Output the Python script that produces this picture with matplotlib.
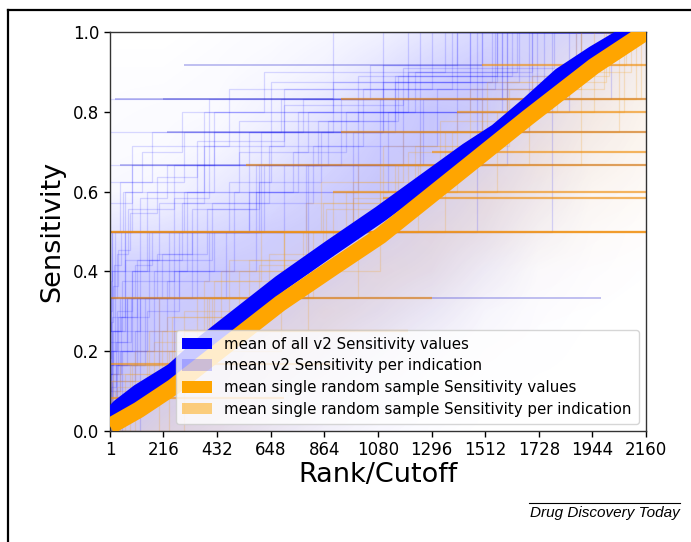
import numpy as np
import matplotlib
matplotlib.use("Agg")
import matplotlib.pyplot as plt
from matplotlib.patches import Patch
from matplotlib.lines import Line2D

# ---------------- data ----------------
x_ticks = [1, 216, 432, 648, 864, 1080, 1296, 1512, 1728, 1944, 2160]
y_ticks = [0.0, 0.2, 0.4, 0.6, 0.8, 1.0]

# mean of all v2 Sensitivity values
blue_rank = [1, 40, 117, 255, 384, 687, 888, 1090, 1441, 1560, 1683, 1816, 1950, 2045, 2160]
blue_sens = [0.035, 0.06, 0.097, 0.15, 0.222, 0.37, 0.458, 0.544, 0.702, 0.75, 0.815, 0.89, 0.945, 0.98, 1.03]

# mean single random sample Sensitivity values
orange_rank = [1, 117, 255, 450, 687, 900, 1090, 1441, 1683, 1950, 2160]
orange_sens = [0.012, 0.053, 0.11, 0.205, 0.32, 0.41, 0.489, 0.664, 0.785, 0.914, 1.0]

# per-indication curves: (number of drugs, ranks at which drugs were recovered)
blue_indications = [
    (5, [1, 20, 150, 420, 900]), (7, [2, 10, 60, 200, 380, 700, 1300]),
    (10, [1, 5, 30, 90, 160, 300, 520, 800, 1200, 1700]), (4, [8, 120, 610, 1400]),
    (8, [1, 1, 50, 260, 480, 650, 1100, 1650]), (3, [1, 350, 1500]),
    (5, [15, 180, 500, 1000, 1580]), (6, [1, 70, 240, 560, 930, 1750]),
    (12, [1, 3, 12, 40, 100, 170, 260, 400, 560, 780, 1050, 1400]), (2, [1, 1480]),
    (9, [4, 25, 85, 190, 330, 600, 880, 1150, 1900]), (4, [1, 1, 1, 1100]),
    (6, [30, 140, 330, 700, 1260, 2020]), (5, [1, 1, 60, 380, 1850]), (3, [120, 800, 1600]),
    (7, [1, 35, 110, 290, 640, 1020, 1550]), (2, [1, 1780]), (6, [1, 1, 1, 1, 1, 1700]),
    (10, [1, 1, 2, 8, 20, 55, 130, 290, 620, 1350]), (5, [50, 260, 590, 1120, 1720]),
    (8, [1, 2, 4, 9, 40, 300, 900, 1450]), (6, [1, 1, 10, 90, 400, 1200]),
    (9, [1, 1, 1, 30, 75, 260, 520, 1000, 1620]), (7, [3, 45, 160, 410, 820, 1320, 1880]),
    (11, [1, 2, 6, 15, 35, 80, 190, 350, 700, 1180, 1790]), (5, [1, 90, 310, 760, 1450]),
    (4, [1, 60, 980, 1690]), (8, [1, 1, 1, 1, 1, 170, 650, 1560]),
    (6, [25, 110, 280, 620, 1090, 1600]), (12, [1, 1, 1, 5, 18, 45, 120, 230, 420, 690, 1100, 1500]),
    (3, [1, 1, 1250]), (7, [1, 1, 1, 1, 90, 480, 1380]),
    (10, [1, 40, 150, 280, 420, 560, 740, 950, 1230, 1640]), (8, [10, 100, 230, 400, 600, 850, 1150, 1540]),
    (9, [1, 1, 70, 210, 390, 590, 840, 1160, 1560]), (6, [5, 200, 470, 790, 1180, 1580]),
]
orange_indications = [
    (10, [20, 150, 300, 520, 700, 950, 1200, 1500, 1800, 2100]),
    (7, [60, 250, 480, 790, 1100, 1450, 1900]), (8, [5, 210, 420, 700, 980, 1250, 1600, 2000]),
    (5, [100, 450, 900, 1400, 1950]),
    (12, [10, 90, 260, 400, 600, 780, 980, 1160, 1380, 1600, 1850, 2080]),
    (4, [300, 800, 1350, 2050]), (6, [40, 350, 700, 1150, 1500, 2140]), (3, [200, 1000, 1900]),
    (9, [30, 180, 410, 640, 870, 1090, 1330, 1700, 2010]),
    (6, [80, 390, 820, 1240, 1690, 2120]), (8, [1, 160, 380, 610, 850, 1180, 1520, 1880]),
    (5, [240, 690, 1090, 1560, 2070]), (7, [15, 230, 560, 860, 1230, 1610, 1990]),
]
# long flat stretches of single indications: (sensitivity, from rank, to rank)
blue_flats = [
    (0.5, 1, 700), (0.333, 1, 1980), (0.667, 40, 2160), (0.833, 215, 2160), (0.75, 230, 2160),
    (0.833, 20, 900), (0.917, 300, 1500),
]
orange_flats = [
    (0.5, 1, 2160), (0.5, 1, 2160), (0.333, 1, 1300), (0.667, 550, 2160), (0.833, 930, 2160),
    (0.75, 930, 2160), (0.6, 900, 2160), (0.583, 1100, 2160), (0.7, 1300, 2160),
    (0.8, 1400, 2160), (0.917, 1500, 2160), (0.167, 1, 900), (0.083, 1, 700), (0.25, 300, 1200),
]

# density of the faint per-indication lines (rows: sensitivity 1.0 -> 0.0, cols: x_ticks)
blue_density = [
    [0.00, 0.00, 0.02, 0.04, 0.08, 0.15, 0.30, 0.45, 0.50, 0.45, 0.25],
    [0.02, 0.02, 0.04, 0.08, 0.15, 0.30, 0.50, 0.60, 0.50, 0.25, 0.10],
    [0.03, 0.04, 0.06, 0.15, 0.30, 0.50, 0.65, 0.60, 0.35, 0.15, 0.05],
    [0.04, 0.06, 0.12, 0.25, 0.45, 0.60, 0.65, 0.45, 0.25, 0.10, 0.03],
    [0.08, 0.12, 0.25, 0.40, 0.55, 0.65, 0.50, 0.35, 0.20, 0.05, 0.02],
    [0.30, 0.35, 0.45, 0.55, 0.60, 0.50, 0.40, 0.30, 0.12, 0.03, 0.01],
    [0.55, 0.55, 0.60, 0.60, 0.50, 0.40, 0.35, 0.20, 0.05, 0.02, 0.01],
    [0.65, 0.60, 0.60, 0.50, 0.40, 0.35, 0.25, 0.10, 0.03, 0.01, 0.00],
    [0.70, 0.60, 0.50, 0.40, 0.35, 0.25, 0.12, 0.05, 0.02, 0.00, 0.00],
    [0.75, 0.55, 0.45, 0.35, 0.25, 0.15, 0.06, 0.02, 0.00, 0.00, 0.00],
    [0.60, 0.45, 0.35, 0.25, 0.15, 0.08, 0.03, 0.00, 0.00, 0.00, 0.00],
]
orange_density = [
    [0, 0, 0, 0, 0, 0, 0, 0, 0.03, 0.10, 0.25],
    [0, 0, 0, 0, 0, 0, 0, 0.03, 0.12, 0.30, 0.30],
    [0, 0, 0, 0, 0, 0, 0.02, 0.08, 0.35, 0.40, 0.25],
    [0, 0, 0, 0, 0, 0.02, 0.06, 0.30, 0.45, 0.30, 0.20],
    [0, 0, 0, 0, 0.02, 0.06, 0.30, 0.45, 0.30, 0.20, 0.12],
    [0, 0, 0, 0.02, 0.08, 0.30, 0.45, 0.35, 0.20, 0.10, 0.05],
    [0, 0, 0.02, 0.08, 0.30, 0.45, 0.35, 0.15, 0.06, 0.03, 0.01],
    [0, 0.02, 0.08, 0.30, 0.45, 0.30, 0.15, 0.05, 0.02, 0.01, 0],
    [0.02, 0.08, 0.30, 0.45, 0.30, 0.15, 0.05, 0.02, 0, 0, 0],
    [0.08, 0.30, 0.45, 0.30, 0.15, 0.05, 0.02, 0, 0, 0, 0],
    [0.25, 0.45, 0.35, 0.20, 0.08, 0.02, 0, 0, 0, 0, 0],
]

legend_labels = [
    "mean of all v2 Sensitivity values",
    "mean v2 Sensitivity per indication",
    "mean single random sample Sensitivity values",
    "mean single random sample Sensitivity per indication",
]

# ---------------- styles ----------------
BLUE = "#0000FF"
ORANGE = "#FFA500"
R_MIN, R_MAX = 1, 2160

fig = plt.figure(figsize=(6.91, 5.42), dpi=100)
ax = fig.add_axes([110 / 691, 1 - 431 / 542, 536 / 691, 399 / 542])


def density_image(dens, rgb, amax):
    d = np.array(dens, dtype=float)
    img = np.zeros(d.shape + (4,))
    img[..., 0], img[..., 1], img[..., 2] = rgb
    img[..., 3] = np.clip(d, 0, 1) * amax
    return img


n_cols = len(x_ticks)
dx = (x_ticks[-1] - x_ticks[0]) / (n_cols - 1)
dy = 1.0 / (len(blue_density) - 1)
ext = [x_ticks[0] - dx / 2, x_ticks[-1] + dx / 2, -dy / 2, 1 + dy / 2]
ax.imshow(density_image(blue_density, (0.25, 0.25, 1.0), 0.45), extent=ext, origin="upper",
          interpolation="bilinear", aspect="auto", zorder=0)
ax.imshow(density_image(orange_density, (1.0, 0.65, 0.1), 0.30), extent=ext, origin="upper",
          interpolation="bilinear", aspect="auto", zorder=0.5)


def step_curve(n, hits):
    hits = sorted(hits)
    xs = [R_MIN]
    ys = [sum(1 for h in hits if h <= R_MIN) / n]
    for h in hits:
        if R_MIN < h <= R_MAX:
            xs.append(h)
            ys.append(sum(1 for k in hits if k <= h) / n)
    xs.append(R_MAX)
    ys.append(ys[-1])
    return xs, ys


for n, hits in blue_indications:
    xs, ys = step_curve(n, hits)
    ax.plot(xs, ys, drawstyle="steps-post", color=BLUE, alpha=0.14, lw=0.9, zorder=1)
for n, hits in orange_indications:
    xs, ys = step_curve(n, hits)
    ax.plot(xs, ys, drawstyle="steps-post", color="#F0A020", alpha=0.22, lw=0.9, zorder=1.5)

bf = np.array(blue_flats, dtype=float)
ax.hlines(bf[:, 0], bf[:, 1], bf[:, 2], color="#3030D0", alpha=0.35, lw=1.2, zorder=1.1)
of = np.array(orange_flats, dtype=float)
ax.hlines(of[:, 0], of[:, 1], of[:, 2], color="#F09010", alpha=0.65, lw=1.6, zorder=1.6)

ax.plot(blue_rank, blue_sens, color=BLUE, lw=12, solid_capstyle="butt", zorder=3)
ax.plot(orange_rank, orange_sens, color=ORANGE, lw=12, solid_capstyle="butt", zorder=4)

ax.set_xlim(R_MIN, R_MAX)
ax.set_ylim(0, 1)
ax.set_xticks(x_ticks)
ax.set_xticklabels([str(t) for t in x_ticks])
ax.set_yticks(y_ticks)
ax.set_yticklabels([f"{t:.1f}" for t in y_ticks])
ax.tick_params(labelsize=12, length=4, width=1)
for sp in ax.spines.values():
    sp.set_color("#333333")
    sp.set_linewidth(1.0)
ax.set_xlabel("Rank/Cutoff", fontsize=19.5, labelpad=2)
ax.set_ylabel("Sensitivity", fontsize=19.5, labelpad=6)

handles = [
    Patch(facecolor=BLUE, edgecolor="none"),
    Patch(facecolor=BLUE, alpha=0.2, edgecolor="none"),
    Patch(facecolor=ORANGE, edgecolor="none"),
    Patch(facecolor=ORANGE, alpha=0.5, edgecolor="none"),
]
leg = ax.legend(handles, legend_labels, loc="lower right", fontsize=10.8,
                handlelength=2.0, handleheight=0.8, borderpad=0.45, labelspacing=0.45)
leg.set_zorder(10)

# outer frame
fig.add_artist(Line2D([8 / 691, 1.0], [1 - 10 / 542, 1 - 10 / 542], color="black", lw=1.6,
                      transform=fig.transFigure))
fig.add_artist(Line2D([8 / 691, 8 / 691], [0, 1 - 10 / 542], color="black", lw=1.6,
                      transform=fig.transFigure))
# footer
fig.add_artist(Line2D([529 / 691, 680 / 691], [1 - 503 / 542, 1 - 503 / 542], color="black",
                      lw=0.8, transform=fig.transFigure))
fig.text(680 / 691, 1 - 506 / 542, "Drug Discovery Today", ha="right", va="top",
         fontsize=11, style="italic", family=["Liberation Sans", "DejaVu Sans"])

fig.savefig("out.png", dpi=100)
